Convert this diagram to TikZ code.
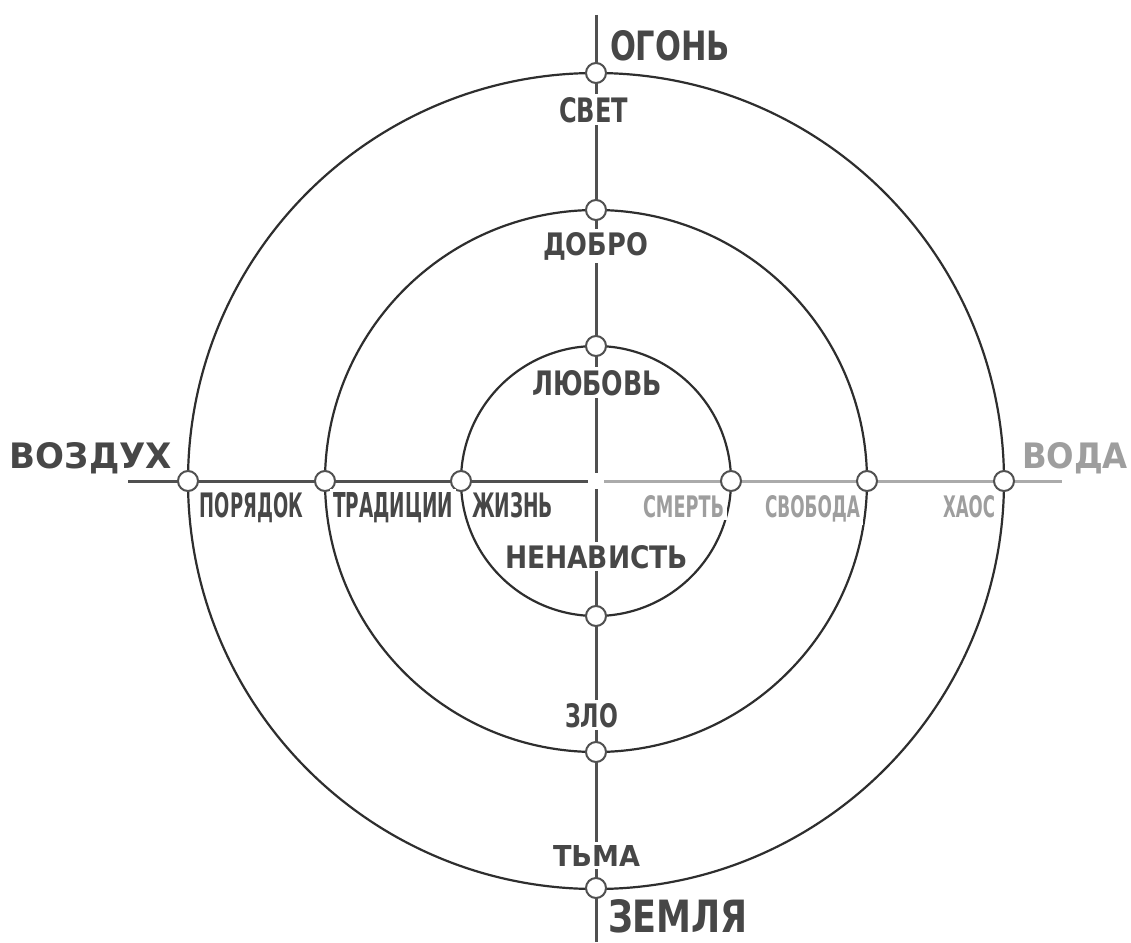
\documentclass[tikz,border=0pt]{standalone}
\usepackage{fontspec}
\usepackage{graphicx}
\setmainfont{DejaVu Sans}
\definecolor{axisdark}{HTML}{505050}
\definecolor{axislight}{HTML}{ABABAB}
\definecolor{ringcol}{HTML}{2E2E2E}
\definecolor{labdark}{HTML}{474747}
\definecolor{lablight}{HTML}{9E9E9E}
\newcommand{\lbl}[3]{\resizebox{#1pt}{#2pt}{\bfseries #3}}
\begin{document}
\begin{tikzpicture}[x=1pt,y=-1pt,
  ring/.style={draw=ringcol,line width=2.2pt},
  axisd/.style={draw=axisdark,line width=3pt},
  axisl/.style={draw=axislight,line width=3pt},
  dot/.style={circle,draw=axisdark,fill=white,line width=2pt,minimum size=20pt,inner sep=0pt},
  labd/.style={fill=white,inner sep=3pt,anchor=base,text=labdark},
  labl/.style={fill=white,inner sep=3pt,anchor=base,text=lablight}]
\useasboundingbox (0,0) rectangle (1131,942);
\fill[white] (0,0) rectangle (1131,942);
% axis end points
\coordinate (C) at (596,481);
\coordinate (vtop) at (596,15);
\coordinate (vcu) at (596,473);
\coordinate (vcd) at (596,489);
\coordinate (vbot) at (596,942);
\coordinate (hleft) at (128,481);
\coordinate (hcl) at (588,481);
\coordinate (hcr) at (604,481);
\coordinate (hright) at (1062,481);
% axes
\draw[axisd] (vtop) -- (vcu);
\draw[axisd] (vcd) -- (vbot);
\draw[axisd] (hleft) -- (hcl);
\draw[axisl] (hcr) -- (hright);
% rings
\draw[ring] (C) circle (408);
\draw[ring] (C) circle (271);
\draw[ring] (C) circle (135);
% markers
\node[dot] (m1) at (596,73) {};
\node[dot] (m2) at (596,210) {};
\node[dot] (m3) at (596,346) {};
\node[dot] (m4) at (596,616) {};
\node[dot] (m5) at (596,752) {};
\node[dot] (m6) at (596,888) {};
\node[dot] (m7) at (188,481) {};
\node[dot] (m8) at (325,481) {};
\node[dot] (m9) at (461,481) {};
\node[dot] (m10) at (731,481) {};
\node[dot] (m11) at (867,481) {};
\node[dot] (m12) at (1004,481) {};
% big labels
\node[labd] (ogon) at (670,60) {\lbl{120}{30}{ОГОНЬ}};
\node[labd] (zemlya) at (678,932) {\lbl{140}{33}{ЗЕМЛЯ}};
\node[labd] (vozduh) at (91,468) {\lbl{162}{26}{ВОЗДУХ}};
\node[labl] (voda) at (1075,468) {\lbl{106}{26}{ВОДА}};
% vertical labels
\node[labd] (svet) at (593.5,122) {\lbl{69}{25}{СВЕТ}};
\node[labd] (dobro) at (595.5,255) {\lbl{105}{23}{ДОБРО}};
\node[labd] (lyubov) at (597,395) {\lbl{130}{25}{ЛЮБОВЬ}};
\node[labd] (nenav) at (596.5,568) {\lbl{183}{23}{НЕНАВИСТЬ}};
\node[labd] (zlo) at (591.5,727) {\lbl{53}{24}{ЗЛО}};
\node[labd] (tma) at (596.5,866) {\lbl{87}{21}{ТЬМА}};
% horizontal labels
\node[labd] (poryadok) at (251.5,517) {\lbl{103}{25}{ПОРЯДОК}};
\node[labd] (tradicii) at (393,517) {\lbl{120}{25}{ТРАДИЦИИ}};
\node[labd] (zhizn) at (512.5,517) {\lbl{81}{25}{ЖИЗНЬ}};
\node[labl] (smert) at (683.5,517) {\lbl{81}{22}{СМЕРТЬ}};
\node[labl] (svoboda) at (812.5,517) {\lbl{95}{22}{СВОБОДА}};
\node[labl] (haos) at (969,517) {\lbl{52}{22}{ХАОС}};
\end{tikzpicture}
\end{document}
